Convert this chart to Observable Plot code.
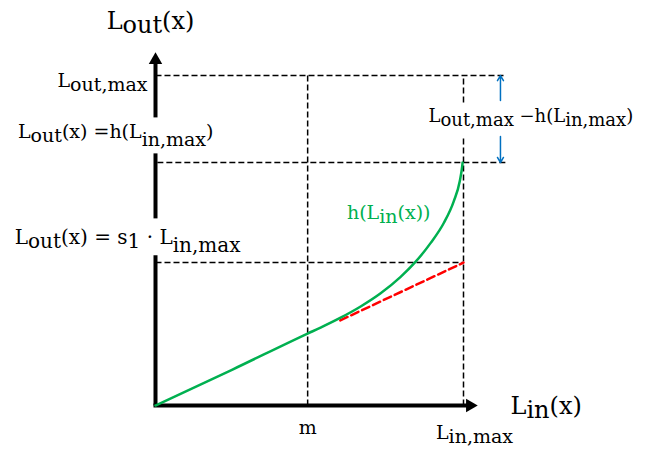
<!DOCTYPE html>
<html><head><meta charset="utf-8">
<script src="https://cdn.jsdelivr.net/npm/d3@7"></script>
<script src="https://cdn.jsdelivr.net/npm/@observablehq/plot@0.6"></script>
<style>
body{margin:0;background:#fff}
svg{font-family:"DejaVu Serif",serif}
</style>
</head><body><div id="chart"></div>
<script>
// key positions on the input axis (units of L_in,max)
const xKeyNames = ["m", "L_in,max"];
const xKeyValues = [0.494, 1];
// key levels on the output axis (units of L_out,max)
const yKeyNames = ["L_out,max", "h(L_in,max)", "s1·L_in,max"];
const yKeyValues = [1, 0.736, 0.433];
// h(L_in(x)) curve
const hX = [0, 0.25, 0.494, 0.536, 0.601, 0.666, 0.731, 0.795, 0.844, 0.893, 0.936, 0.968, 0.988, 0.996, 0.997];
const hY = [0, 0.109, 0.218, 0.236, 0.266, 0.300, 0.340, 0.389, 0.435, 0.492, 0.553, 0.618, 0.680, 0.727, 0.736];
// linear continuation s1 · L_in
const linX = [0.6, 1];
const linY = [0.258, 0.433];

const [m, LinMax] = xKeyValues;
const [LoutMax, hMax, sMax] = yKeyValues;

const hData = hX.map((x, i) => ({x, y: hY[i]}));
const linData = linX.map((x, i) => ({x, y: linY[i]}));

// guide segments (dashed)
const dashed = [
  {x1: 0, y1: LoutMax, x2: 1.136, y2: LoutMax},
  {x1: 0.006, y1: hMax, x2: 1.143, y2: hMax},
  {x1: 0, y1: sMax, x2: LinMax, y2: sMax},
  {x1: m, y1: 0, x2: m, y2: LoutMax},
  {x1: LinMax, y1: 0, x2: LinMax, y2: 0.818},
  {x1: LinMax, y1: 0.918, x2: LinMax, y2: LoutMax}
];
// axis segments (y axis interrupted by labels)
const yAxisSegs = [
  {x1: 0, y1: 0, x2: 0, y2: 0.455},
  {x1: 0, y1: 0.567, x2: 0, y2: 0.764},
  {x1: 0, y1: 0.873, x2: 0, y2: 1.047}
];
const xAxisSegs = [{x1: 0, y1: 0, x2: 1.021, y2: 0}];

function label(x, y, text, o = {}) {
  return Plot.text([{x, y, text}], {
    x: "x", y: "y", text: "text",
    textAnchor: o.anchor ?? "middle", lineAnchor: "bottom",
    dx: o.dx ?? 0, dy: o.dy ?? 0,
    fontSize: o.size ?? 19, fill: o.fill ?? "black",
    className: "mathlabel"
  });
}

const svg = Plot.plot({
  width: 657, height: 449,
  marginLeft: 155, marginRight: 194, marginTop: 75, marginBottom: 44,
  x: {domain: [0, 1], axis: null},
  y: {domain: [0, 1], axis: null},
  style: {background: "white", overflow: "visible"},
  marks: [
    Plot.link(dashed, {x1: "x1", y1: "y1", x2: "x2", y2: "y2", stroke: "black", strokeWidth: 1.5, strokeDasharray: "6,3"}),
    Plot.link(yAxisSegs, {x1: "x1", y1: "y1", x2: "x2", y2: "y2", stroke: "black", strokeWidth: 4}),
    Plot.link(xAxisSegs, {x1: "x1", y1: "y1", x2: "x2", y2: "y2", stroke: "black", strokeWidth: 4, strokeLinecap: "square"}),
    Plot.dot([{x: 0, y: 1.047}], {x: "x", y: "y", symbol: "triangle", r: 5, fill: "black", stroke: null}),
    Plot.dot([{x: 1.021, y: 0}], {x: "x", y: "y", symbol: "triangle", r: 5, fill: "black", stroke: null, rotate: 90}),
    Plot.line(linData, {x: "x", y: "y", stroke: "#ff0000", strokeWidth: 2.5, strokeDasharray: "8,4"}),
    Plot.line(hData, {x: "x", y: "y", stroke: "#00b050", strokeWidth: 2.5, curve: "monotone-x"}),
    Plot.arrow([{x1: 1.12, y1: 0.924, x2: 1.12, y2: LoutMax}], {x1: "x1", y1: "y1", x2: "x2", y2: "y2", stroke: "#0070c0", strokeWidth: 1.5, headLength: 6}),
    Plot.arrow([{x1: 1.12, y1: 0.815, x2: 1.12, y2: hMax}], {x1: "x1", y1: "y1", x2: "x2", y2: "y2", stroke: "#0070c0", strokeWidth: 1.5, headLength: 6}),
    label(0, LoutMax, "L_{out}(x)", {dx: -5, dy: -47, size: 24}),
    label(0, LoutMax, "L_{out,max}", {anchor: "end", dx: -8, dy: 11}),
    label(0, hMax, "L_{out}(x) =h(L_[in,max])", {anchor: "end", dx: 58, dy: -25}),
    label(0, sMax, "L_{out}(x) = s_{1} · L_[in,max]", {anchor: "end", dx: 85, dy: -19, size: 20}),
    label(m, 0, "m", {dy: 28}),
    label(LinMax, 0, "L_{in,max}", {dx: 11, dy: 33}),
    label(LinMax, 0, "L_{in}(x)", {anchor: "start", dx: 47, dy: 8, size: 24}),
    label(LinMax, hMax, "h(L_{in}(x))", {anchor: "end", dx: -33, dy: 56, fill: "#00b050"}),
    label(LinMax, LoutMax, "L_{out,max} −h(L_{in,max})", {anchor: "start", dx: -35, dy: 46, size: 18})
  ]
});

// turn the _{...} / _[...] markup into subscript tspans
const NS = "http://www.w3.org/2000/svg";
svg.querySelectorAll("g.mathlabel text").forEach(t => {
  const s = t.textContent;
  const re = /_\{([^}]*)\}|_\[([^\]]*)\]/g;
  const parts = [];
  let last = 0, mm;
  while ((mm = re.exec(s))) {
    if (mm.index > last) parts.push({t: s.slice(last, mm.index), sub: 0});
    parts.push({t: mm[1] ?? mm[2], sub: mm[1] != null ? 4 : 8});
    last = re.lastIndex;
  }
  if (last < s.length) parts.push({t: s.slice(last), sub: 0});
  t.textContent = "";
  let cur = 0;
  parts.forEach(p => {
    const ts = document.createElementNS(NS, "tspan");
    ts.textContent = p.t;
    const shift = p.sub - cur;
    if (shift) ts.setAttribute("dy", shift);
    cur = p.sub;
    t.appendChild(ts);
  });
});

document.getElementById("chart").appendChild(svg);
</script>
</body></html>
